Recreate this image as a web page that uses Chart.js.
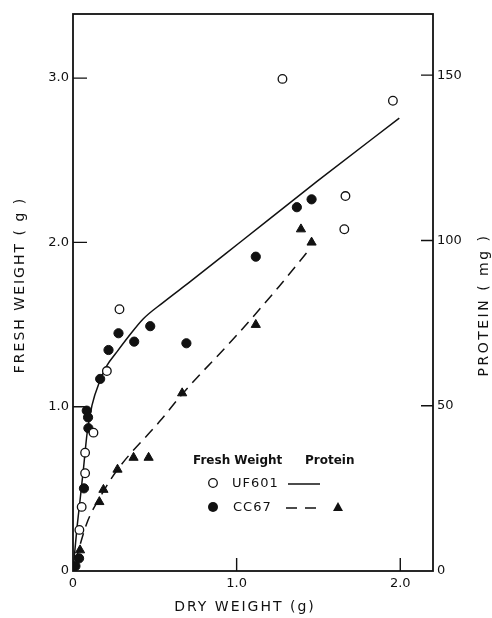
<!DOCTYPE html>
<html>
<head>
<title>Fresh weight and protein vs dry weight</title>
<script src="https://cdn.jsdelivr.net/npm/chart.js@4.4.0/dist/chart.umd.min.js"></script>
<style>
    body { margin: 0; background: #fff; }
</style>
</head>
<body>
<canvas id="myChart" width="492" height="618"></canvas>

<script>
    // values (dry weight in g, fresh weight in g, protein in mg)
    const uf601FreshDry = [0.039, 0.053, 0.074, 0.074, 0.125, 0.207, 0.284, 1.28, 1.658, 1.665, 1.955];
    const uf601Fresh = [0.25, 0.39, 0.595, 0.72, 0.842, 1.217, 1.593, 2.995, 2.08, 2.282, 2.862];

    const cc67FreshDry = [0.015, 0.037, 0.067, 0.084, 0.092, 0.094, 0.166, 0.217, 0.278, 0.374, 0.472, 0.693, 1.117, 1.368, 1.458];
    const cc67Fresh = [0.03, 0.077, 0.503, 0.976, 0.935, 0.869, 1.169, 1.345, 1.447, 1.396, 1.49, 1.386, 1.913, 2.214, 2.262];

    const cc67ProteinDry = [0.043, 0.161, 0.186, 0.272, 0.37, 0.462, 0.667, 1.117, 1.393, 1.458];
    const cc67Protein = [6.3, 20.9, 24.6, 30.7, 34.3, 34.3, 53.8, 74.5, 103.4, 99.4];

    // fitted curves
    const uf601CurveDry = [0, 0.023, 0.043, 0.063, 0.086, 0.116, 0.165, 0.208, 0.267, 0.336, 0.43, 0.55, 0.718, 1.025, 1.495, 1.994];
    const uf601CurveProtein = [0, 12.4, 21.4, 30.5, 41.6, 50.1, 57.6, 62.2, 66.2, 70.7, 76.3, 81.2, 87.6, 99.6, 118, 137];

    const cc67CurveDry = [0.015, 0.084, 0.166, 0.268, 0.534, 0.667, 1.0, 1.258, 1.448];
    const cc67CurveProtein = [3, 14.4, 22.4, 30.4, 45.5, 53.5, 71.3, 86, 97.5];

    const dryTicks = [0, 1, 2];
    const dryTickLabels = ['0', '1.0', '2.0'];
    const freshTicks = [0, 1, 2, 3];
    const freshTickLabels = ['0', '1.0', '2.0', '3.0'];
    const proteinTicks = [0, 50, 100, 150];
    const proteinTickLabels = ['0', '50', '100', '150'];

    function toPoints(xs, ys) {
        return xs.map((x, i) => ({ x: x, y: ys[i] }));
    }

    const INK = '#111';

    // frame, inward ticks, axis titles and the hand-drawn style key
    const decorations = {
        id: 'decorations',
        afterDraw(chart) {
            const ctx = chart.ctx;
            const a = chart.chartArea;
            const sx = chart.scales.x, sy = chart.scales.y, sp = chart.scales.y2;
            ctx.save();
            ctx.strokeStyle = INK;
            ctx.fillStyle = INK;
            ctx.lineWidth = 1.8;
            ctx.strokeRect(a.left, a.top, a.right - a.left, a.bottom - a.top);

            ctx.lineWidth = 1.4;
            ctx.beginPath();
            freshTicks.slice(1).forEach(v => {
                const y = sy.getPixelForValue(v);
                ctx.moveTo(a.left, y); ctx.lineTo(a.left + 14, y);
            });
            proteinTicks.slice(1).forEach(v => {
                const y = sp.getPixelForValue(v);
                ctx.moveTo(a.right, y); ctx.lineTo(a.right - 12, y);
            });
            dryTicks.slice(1).forEach(v => {
                const x = sx.getPixelForValue(v);
                ctx.moveTo(x, a.bottom); ctx.lineTo(x, a.bottom - 13);
            });
            ctx.stroke();

            // axis titles
            ctx.font = '14px "DejaVu Sans"';
            ctx.letterSpacing = '2px';
            ctx.textAlign = 'center';
            ctx.textBaseline = 'middle';
            ctx.fillText('DRY WEIGHT (g)', 245, 607);

            ctx.save();
            ctx.translate(20, 285);
            ctx.rotate(-Math.PI / 2);
            ctx.fillText('FRESH WEIGHT ( g )', 0, 0);
            ctx.restore();

            ctx.save();
            ctx.translate(484, 305);
            ctx.rotate(-Math.PI / 2);
            ctx.letterSpacing = '2.5px';
            ctx.fillText('PROTEIN ( mg )', 0, 0);
            ctx.restore();

            // key
            ctx.textAlign = 'left';
            ctx.letterSpacing = '0px';
            ctx.font = 'bold 12px "DejaVu Sans"';
            ctx.fillText('Fresh Weight', 193, 461);
            ctx.fillText('Protein', 305, 461);

            ctx.font = '13px "DejaVu Sans"';
            ctx.letterSpacing = '1px';
            ctx.fillText('UF601', 232, 484);
            ctx.fillText('CC67', 233, 508);

            ctx.lineWidth = 1.3;
            ctx.beginPath();
            ctx.arc(213, 483, 4.3, 0, Math.PI * 2);
            ctx.stroke();
            ctx.beginPath();
            ctx.arc(213, 507, 5, 0, Math.PI * 2);
            ctx.fill();

            ctx.lineWidth = 1.5;
            ctx.beginPath();
            ctx.moveTo(288, 484); ctx.lineTo(320, 484);
            ctx.stroke();
            ctx.setLineDash([11, 8]);
            ctx.beginPath();
            ctx.moveTo(286, 508); ctx.lineTo(318, 508);
            ctx.stroke();
            ctx.setLineDash([]);

            ctx.beginPath();
            ctx.moveTo(338, 502); ctx.lineTo(343, 511); ctx.lineTo(333, 511);
            ctx.closePath();
            ctx.fill();
            ctx.restore();
        }
    };

    const tickFont = { family: '"DejaVu Sans"', size: 13 };

    const ctx = document.getElementById('myChart');
    const myChart = new Chart(ctx, {
        type: 'scatter',
        data: {
            datasets: [
                {
                    label: 'UF601 fresh weight',
                    data: toPoints(uf601FreshDry, uf601Fresh),
                    yAxisID: 'y',
                    pointStyle: 'circle',
                    pointRadius: 4.3,
                    pointBorderWidth: 1.3,
                    pointBackgroundColor: '#fff',
                    pointBorderColor: INK
                },
                {
                    label: 'CC67 fresh weight',
                    data: toPoints(cc67FreshDry, cc67Fresh),
                    yAxisID: 'y',
                    pointStyle: 'circle',
                    pointRadius: 4.6,
                    pointBorderWidth: 1,
                    pointBackgroundColor: INK,
                    pointBorderColor: INK
                },
                {
                    label: 'CC67 protein',
                    data: toPoints(cc67ProteinDry, cc67Protein),
                    yAxisID: 'y2',
                    pointStyle: 'triangle',
                    pointRadius: 5.3,
                    pointBorderWidth: 1,
                    pointBackgroundColor: INK,
                    pointBorderColor: INK
                },
                {
                    label: 'UF601 protein curve',
                    data: toPoints(uf601CurveDry, uf601CurveProtein),
                    yAxisID: 'y2',
                    showLine: true,
                    pointRadius: 0,
                    borderColor: INK,
                    borderWidth: 1.5,
                    cubicInterpolationMode: 'monotone'
                },
                {
                    label: 'CC67 protein curve',
                    data: toPoints(cc67CurveDry, cc67CurveProtein),
                    yAxisID: 'y2',
                    showLine: true,
                    pointRadius: 0,
                    borderColor: INK,
                    borderWidth: 1.5,
                    borderDash: [11, 7],
                    cubicInterpolationMode: 'monotone'
                }
            ]
        },
        options: {
            responsive: false,
            animation: false,
            devicePixelRatio: 1,
            layout: { padding: { top: 14, left: 0, right: 0, bottom: 0 } },
            plugins: {
                legend: { display: false },
                tooltip: { enabled: false }
            },
            scales: {
                x: {
                    type: 'linear',
                    position: 'bottom',
                    min: 0,
                    max: 2.2,
                    grid: { display: false, drawTicks: false },
                    border: { display: false },
                    afterBuildTicks: s => { s.ticks = dryTicks.map(v => ({ value: v })); },
                    afterFit: s => { s.height = 47; },
                    ticks: {
                        autoSkip: false,
                        maxRotation: 0,
                        padding: 5,
                        color: INK,
                        font: tickFont,
                        callback: (v, i) => dryTickLabels[i]
                    }
                },
                y: {
                    type: 'linear',
                    position: 'left',
                    min: 0,
                    max: 3.39,
                    grid: { display: false, drawTicks: false },
                    border: { display: false },
                    afterBuildTicks: s => { s.ticks = freshTicks.map(v => ({ value: v })); },
                    afterFit: s => { s.width = 73; },
                    ticks: {
                        autoSkip: false,
                        padding: 4,
                        color: INK,
                        font: tickFont,
                        callback: (v, i) => freshTickLabels[i]
                    }
                },
                y2: {
                    type: 'linear',
                    position: 'right',
                    min: 0,
                    max: 168.5,
                    grid: { display: false, drawTicks: false },
                    border: { display: false },
                    afterBuildTicks: s => { s.ticks = proteinTicks.map(v => ({ value: v })); },
                    afterFit: s => { s.width = 59; },
                    ticks: {
                        autoSkip: false,
                        padding: 4,
                        color: INK,
                        font: tickFont,
                        callback: (v, i) => proteinTickLabels[i]
                    }
                }
            }
        },
        plugins: [decorations]
    });
</script>
</body>
</html>
